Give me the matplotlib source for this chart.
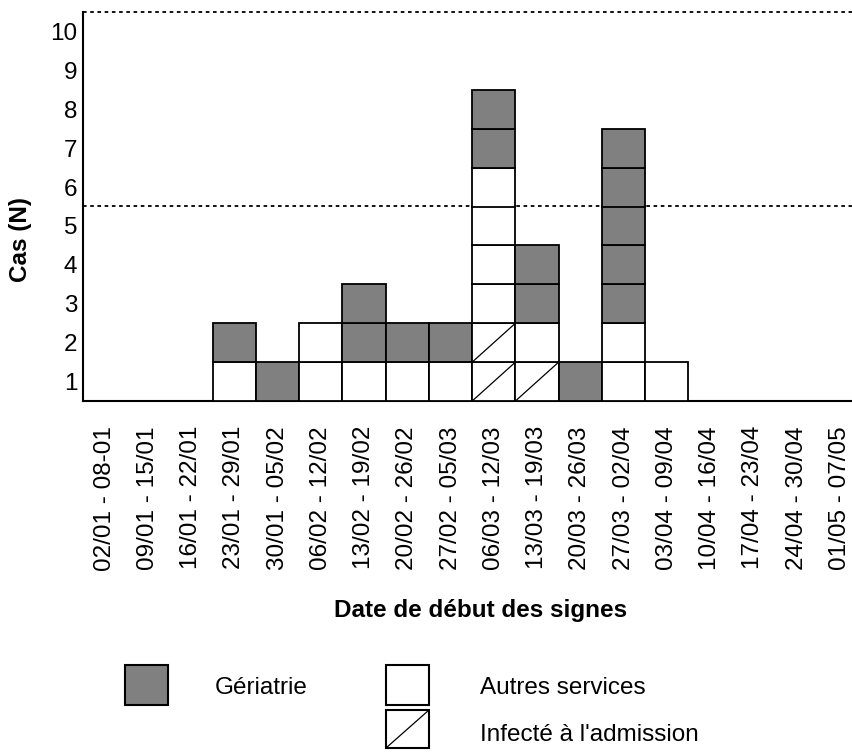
import matplotlib
matplotlib.use("Agg")
import matplotlib.pyplot as plt
from matplotlib.patches import Rectangle

plt.rcParams["font.family"] = ["Liberation Sans", "DejaVu Sans"]

# semaines de début des signes
weeks = ["02/01 - 08-01", "09/01 - 15/01", "16/01 - 22/01", "23/01 - 29/01",
         "30/01 - 05/02", "06/02 - 12/02", "13/02 - 19/02", "20/02 - 26/02",
         "27/02 - 05/03", "06/03 - 12/03", "13/03 - 19/03", "20/03 - 26/03",
         "27/03 - 02/04", "03/04 - 09/04", "10/04 - 16/04", "17/04 - 23/04",
         "24/04 - 30/04", "01/05 - 07/05"]

# nombre de cas par semaine (empilés : admission, autres, gériatrie)
admission = [0, 0, 0, 0, 0, 0, 0, 0, 0, 2, 1, 0, 0, 0, 0, 0, 0, 0]
autres    = [0, 0, 0, 1, 0, 2, 1, 1, 1, 4, 1, 0, 2, 1, 0, 0, 0, 0]
geriatrie = [0, 0, 0, 1, 1, 0, 2, 1, 1, 2, 2, 1, 5, 0, 0, 0, 0, 0]

y_ticks = list(range(1, 11))
seuil = 5

W, H = 852, 754
fs = 17.5
fig = plt.figure(figsize=(W / 100, H / 100), dpi=100)
ax = fig.add_axes([83 / W, 1 - 401 / H, (W - 83) / W, (401 - 12) / H])

grey = "#808080"
lw = 1.3

for i in range(len(weeks)):
    k = 0
    for _ in range(admission[i]):
        ax.bar(i, 1, width=1, bottom=k, align="edge", color="white",
               edgecolor="black", linewidth=lw, zorder=3)
        ax.plot([i, i + 1], [k, k + 1], color="black", lw=0.9, zorder=4)
        k += 1
    for _ in range(autres[i]):
        ax.bar(i, 1, width=1, bottom=k, align="edge", color="white",
               edgecolor="black", linewidth=lw, zorder=3)
        k += 1
    for _ in range(geriatrie[i]):
        ax.bar(i, 1, width=1, bottom=k, align="edge", color=grey,
               edgecolor="black", linewidth=lw, zorder=3)
        k += 1

ax.set_xlim(0, (W - 82) / 43.3)
ax.set_ylim(0, 10)

ax.axhline(seuil, color="black", lw=1.3, linestyle=(0, (2, 2)), zorder=1)
ax.axhline(10, color="black", lw=1.3, linestyle=(0, (2, 2)), zorder=1, clip_on=False)

for s in ["top", "right"]:
    ax.spines[s].set_visible(False)
ax.spines["left"].set_linewidth(1.5)
ax.spines["bottom"].set_linewidth(1.5)

ax.set_xticks([i + 0.5 for i in range(len(weeks))])
ax.set_xticklabels(weeks, rotation=90, fontsize=fs)
ax.set_yticks([v - 0.5 for v in y_ticks])
ax.set_yticklabels([str(v) for v in y_ticks], fontsize=fs)
ax.tick_params(axis="x", length=0, pad=18)
ax.tick_params(axis="y", length=0, pad=4)

fig.text(20 / W, 1 - 240 / H, "Cas (N)", rotation=90, fontsize=fs,
         fontweight="bold", ha="center", va="center")
fig.text(481 / W, 1 - 611 / H, "Date de début des signes", fontsize=fs,
         fontweight="bold", ha="center", va="center")

# légende
leg = fig.add_axes([0, 0, 1, 1], zorder=-1)
leg.set_xlim(0, W)
leg.set_ylim(H, 0)
leg.axis("off")
leg.add_patch(Rectangle((125, 665), 43, 40, facecolor=grey, edgecolor="black", lw=1.5))
leg.add_patch(Rectangle((386, 665), 43, 40, facecolor="white", edgecolor="black", lw=1.5))
leg.add_patch(Rectangle((386, 710), 43, 38, facecolor="white", edgecolor="black", lw=1.5))
leg.plot([386, 429], [748, 710], color="black", lw=0.9)
leg.text(215, 688, "Gériatrie", fontsize=fs, va="center")
leg.text(480, 688, "Autres services", fontsize=fs, va="center")
leg.text(480, 735, "Infecté à l'admission", fontsize=fs, va="center")

fig.savefig("out.png", dpi=100)
